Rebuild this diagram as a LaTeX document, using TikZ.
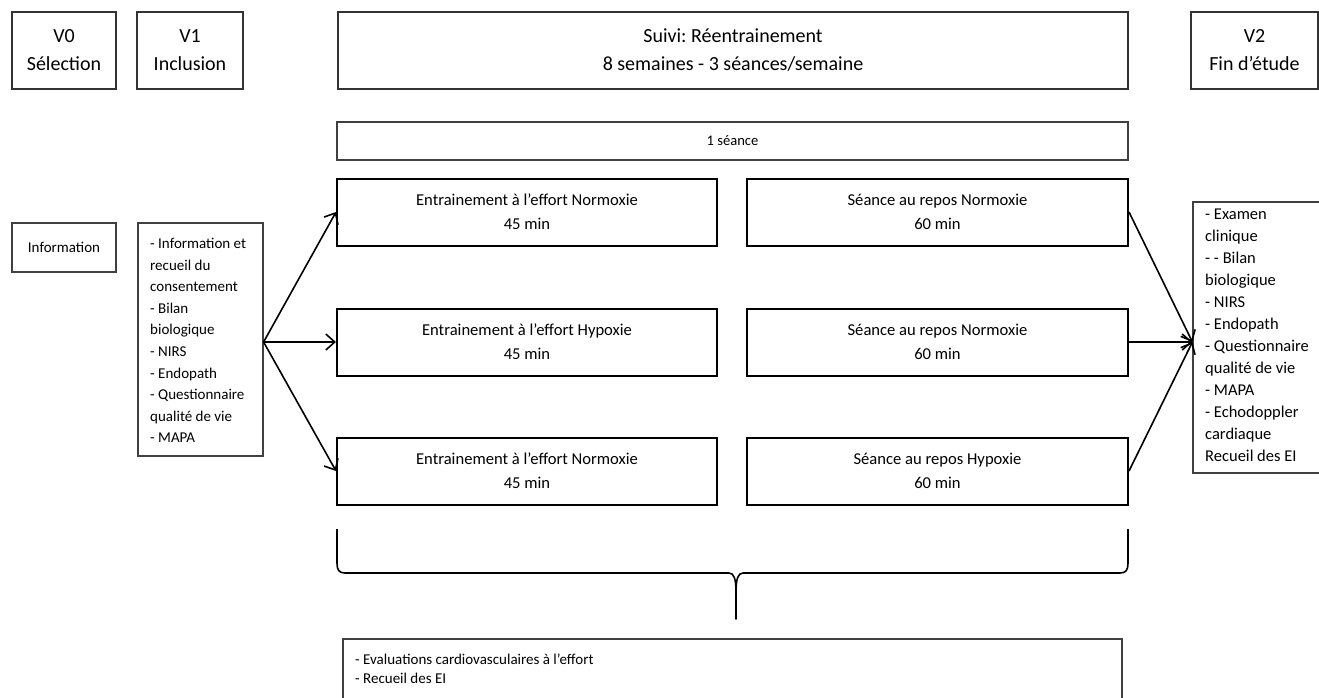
\documentclass[tikz,border=0pt]{standalone}
\usepackage{fontspec}
\setmainfont{Carlito}
\usetikzlibrary{arrows.meta}
\frenchspacing
\begin{document}
\begin{tikzpicture}[x=1pt,y=-1pt,
  hbox/.style={draw=black!80, line width=1.3pt, inner sep=0pt, align=center, font=\fontsize{20}{28}\selectfont},
  sbox/.style={draw=black, line width=2pt, inner sep=0pt, align=center, minimum height=67pt, font=\fontsize{16.6}{24}\selectfont},
  lbox/.style={draw=black!75, line width=1.2pt, inner sep=0pt},
  ltext/.style={inner sep=0pt, anchor=north west, align=left},
  arr/.style={-{Straight Barb[length=9pt,width=16pt]}, line width=1.6pt}]
\clip (0,0) rectangle (1319,697);
\fill[white] (0,0) rectangle (1319,697);
% headers
\node[hbox, minimum width=104pt, minimum height=77pt] (v0) at (64,50.5) {V0\\Sélection};
\node[hbox, minimum width=106pt, minimum height=77pt] (v1) at (190,50.5) {V1\\Inclusion};
\node[hbox, minimum width=790pt, minimum height=77pt] (suivi) at (733,50.5) {Suivi: Réentrainement\\8 semaines - 3 séances/semaine};
\node[hbox, minimum width=127pt, minimum height=77pt] (v2) at (1254.5,50.5) {V2\\Fin d’étude};
% 1 seance
\node[lbox, minimum width=791pt, minimum height=38pt, font=\fontsize{14.6}{18}\selectfont] (seance) at (732.5,141) {1 séance};
% sessions
\node[sbox, minimum width=380pt] (L1) at (527,212) {Entrainement à l’effort Normoxie\\45 min};
\node[sbox, minimum width=380pt] (L2) at (527,342) {Entrainement à l’effort Hypoxie\\45 min};
\node[sbox, minimum width=380pt] (L3) at (527,471) {Entrainement à l’effort Normoxie\\45 min};
\node[sbox, minimum width=381pt] (R1) at (937.5,212) {Séance au repos Normoxie\\60 min};
\node[sbox, minimum width=381pt] (R2) at (937.5,342) {Séance au repos Normoxie\\60 min};
\node[sbox, minimum width=381pt] (R3) at (937.5,471) {Séance au repos Hypoxie\\60 min};
% information
\node[lbox, minimum width=104pt, minimum height=49pt, font=\fontsize{15}{18}\selectfont] (info) at (64,247.5) {Information};
% V1 list
\node[lbox, minimum width=125pt, minimum height=233pt] (v1list) at (200.5,339.5) {};
\node[ltext, font=\fontsize{15}{21.6}\selectfont] (v1txt) at (150,238) {- Information et\\recueil du\\consentement\\- Bilan\\biologique\\- NIRS\\- Endopath\\- Questionnaire\\qualité de vie\\- MAPA};
% V2 list
\node[lbox, minimum width=129pt, minimum height=271pt] (v2list) at (1257.5,337.5) {};
\node[ltext, font=\fontsize{16.5}{22}\selectfont] (v2txt) at (1205,209) {- Examen\\clinique\\- - Bilan\\biologique\\- NIRS\\- Endopath\\- Questionnaire\\qualité de vie\\- MAPA\\- Echodoppler\\cardiaque\\Recueil des EI};
% bottom box
\node[lbox, minimum width=779pt, minimum height=81pt] (bottom) at (732.5,679.5) {};
\node[ltext, font=\fontsize{15}{18.3}\selectfont] (bottxt) at (355,654) {- Evaluations cardiovasculaires à l’effort\\- Recueil des EI};
% arrows
\coordinate (src) at (v1list.east |- L2.west);
\coordinate (dst) at (v2list.west |- R2.east);
\draw[arr] (src) -- (L1.west);
\draw[arr] (src) -- (L2.west);
\draw[arr] (src) -- (L3.west);
\draw[arr] (R1.east) -- (dst);
\draw[arr] (R2.east) -- (dst);
\draw[arr] (R3.east) -- (dst);
% brace
\draw[line width=1.6pt, line join=round] (337,529) -- (337,563) .. controls (337,570) and (339,573) .. (345,573) -- (729,573)
  .. controls (734,573) and (736,579) .. (736,592) -- (736,619) -- (736,592)
  .. controls (736,579) and (738,573) .. (743,573) -- (1120,573)
  .. controls (1126,573) and (1128,570) .. (1128,563) -- (1128,529);
\end{tikzpicture}
\end{document}
